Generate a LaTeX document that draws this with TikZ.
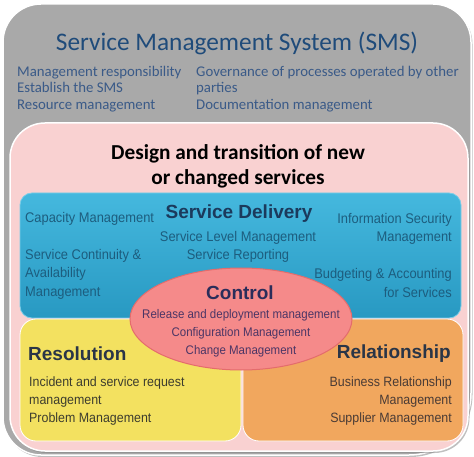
\documentclass[tikz,border=0pt]{standalone}
\usepackage{fontspec}
\setmainfont{Carlito}
\newfontfamily\arialfont{Liberation Sans}
\newfontfamily\arialnarrow[FakeStretch=0.92]{Liberation Sans}
\usepackage{tikz}
\usetikzlibrary{shapes, shadows, positioning}

\definecolor{smsgray}{HTML}{A9A9A9}
\definecolor{titleblue}{HTML}{1F4B7A}
\definecolor{listblue}{HTML}{3A5A88}
\definecolor{designpink}{HTML}{F9D1D1}
\definecolor{deltop}{HTML}{45B8DE}
\definecolor{delbot}{HTML}{2899C2}
\definecolor{deledge}{HTML}{7ACDE8}
\definecolor{delhead}{HTML}{1B3A5C}
\definecolor{deltext}{HTML}{1D5D7E}
\definecolor{resyellow}{HTML}{F3E160}
\definecolor{relorange}{HTML}{F1A75E}
\definecolor{ctrlpink}{HTML}{F58A8A}
\definecolor{ctrledge}{HTML}{E46C6C}
\definecolor{ctrlhead}{HTML}{2B2D5A}
\definecolor{ctrltext}{HTML}{4B3565}
\definecolor{darkhead}{HTML}{2A3547}
\definecolor{restext}{HTML}{3D3D2E}
\definecolor{reltext}{HTML}{4A3B35}

\begin{document}
\begin{tikzpicture}[x=1pt, y=-1pt, inner sep=0pt,
	panel/.style = {draw=white, line width=1.5pt},
	shade/.style = {drop shadow={shadow xshift=1.5pt, shadow yshift=-2pt, fill=black!50, opacity=.5}},
	smslist/.style = {font=\fontsize{14.8}{16.6}\selectfont, text=listblue, align=left, anchor=west},
	bighead/.style = {font=\arialfont\bfseries\fontsize{19}{22}\selectfont},
	smalltext/.style = {font=\arialnarrow\fontsize{13.5}{17.7}\selectfont},
	deltext/.style = {font=\arialnarrow\fontsize{14}{18.4}\selectfont, text=deltext}]
	\useasboundingbox (0,0) rectangle (474,457);

	% SMS frame
	\fill[smsgray, panel, shade] (237,455) [rounded corners=38] -- (3,455) -- (3,4) -- (471,4)
		[rounded corners=62] -- (471,455) [rounded corners=38] -- cycle;
	\node[font=\fontsize{25.3}{30}\selectfont, text=titleblue] (title) at (237,43) {Service Management System (SMS)};
	\node[smslist] (smsleft) at (17,89) {Management responsibility\\Establish the SMS\\Resource management};
	\node[smslist] (smsright) at (196,89) {Governance of processes operated by other\\parties\\Documentation management};

	% design and transition
	\node[panel, shade, fill=designpink, rounded corners=35, minimum width=458, minimum height=328] (design) at (239,287) {};
	\node[font=\bfseries\fontsize{21.3}{25}\selectfont, align=center] (designtext) at (238,166) {Design and transition of new\\or changed services};

	% service delivery
	\node[draw=deledge, line width=.8pt, top color=deltop, bottom color=delbot, rounded corners=12, minimum width=441, minimum height=125] (delivery) at (240.5,255.5) {};
	\node[bighead, text=delhead] (deltitle) at (239,214) {Service Delivery};
	\node[deltext, anchor=west] (capacity) at (25,219) {Capacity Management};
	\node[deltext, align=center] (level) at (238,247) {Service Level Management\\Service Reporting};
	\node[deltext, align=right, anchor=east] (security) at (452,229) {Information Security\\Management};
	\node[deltext, align=left, anchor=west] (continuity) at (25,274) {Service Continuity \&\\Availability\\Management};
	\node[deltext, align=right, anchor=east] (budget) at (452,283) {Budgeting \& Accounting\\for Services};

	% resolution and relationship
	\node[draw=white, line width=.8pt, fill=resyellow, rounded corners=16, minimum width=221, minimum height=122] (resolution) at (130.5,380) {};
	\node[draw=white, line width=.8pt, fill=relorange, rounded corners=16, minimum width=220, minimum height=122] (relationship) at (353,380) {};
	\node[bighead, text=darkhead, anchor=west] (restitle) at (28,354) {Resolution};
	\node[smalltext, text=restext, align=left, anchor=west] (reslist) at (29,401) {Incident and service request\\management\\Problem Management};
	\node[bighead, text=darkhead, anchor=east] (reltitle) at (451,354) {Relationship};
	\node[smalltext, text=reltext, align=right, anchor=east] (rellist) at (452,401) {Business Relationship\\Management\\Supplier Management};

	% control
	\node[ellipse, draw=ctrledge, line width=1pt, fill=ctrlpink, minimum width=222, minimum height=102] (control) at (241,319) {};
	\node[bighead, text=ctrlhead] (ctrltitle) at (240,293) {Control};
	\node[font=\arialnarrow\fontsize{12.5}{18}\selectfont, text=ctrltext, align=center] (ctrllist) at (241,333) {Release and deployment management\\Configuration Management\\Change Management};
\end{tikzpicture}
\end{document}
